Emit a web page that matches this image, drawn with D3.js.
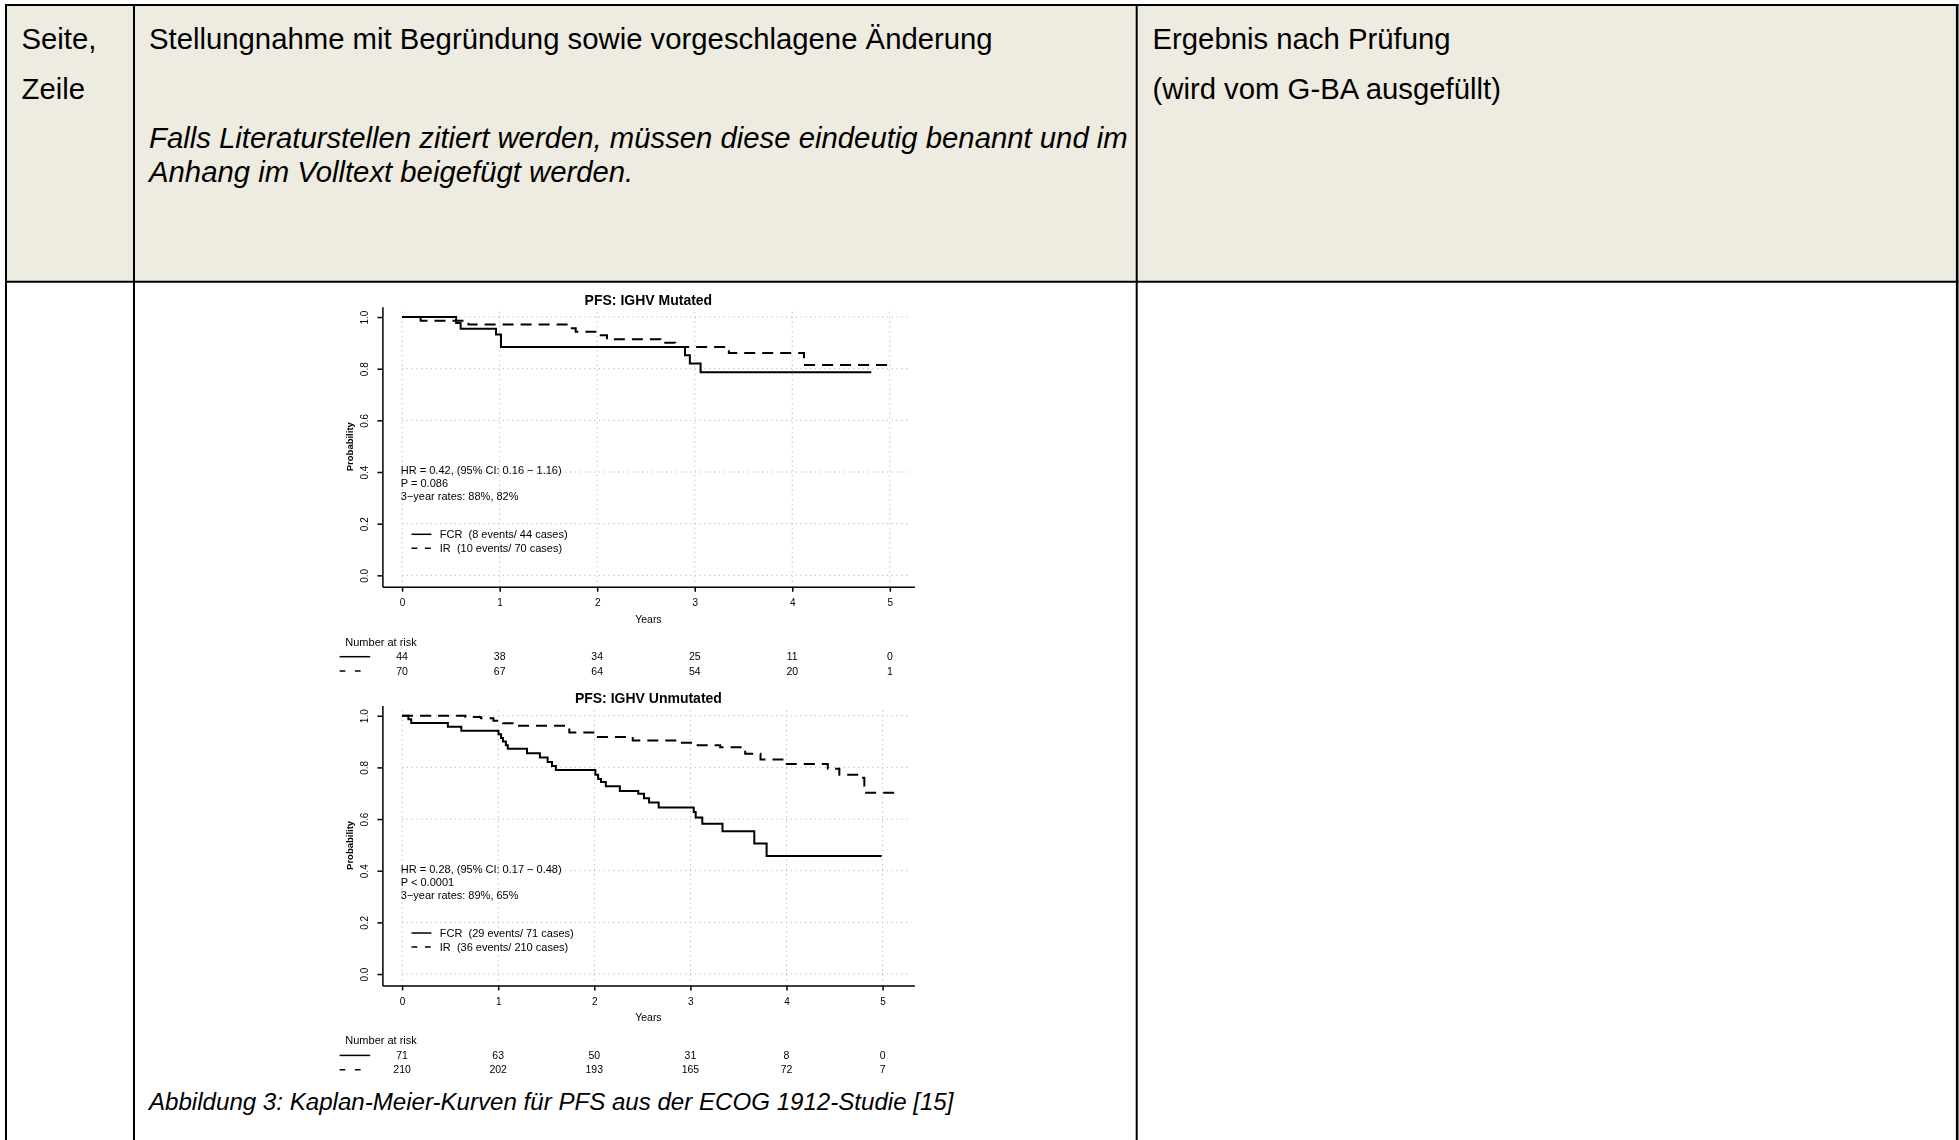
<!DOCTYPE html>
<html>
<head>
<meta charset="utf-8">
<script src="https://cdn.jsdelivr.net/npm/d3@7"></script>
<style>
  html, body { margin: 0; padding: 0; background: #fff; }
  svg { display: block; }
  text { white-space: pre; }
</style>
</head>
<body>
<svg id="page" width="1959" height="1140"></svg>
<script>
// ---- Table text -------------------------------------------------------
const headCol1 = ["Seite,", "Zeile"];
const headCol2 = "Stellungnahme mit Begründung sowie vorgeschlagene Änderung";
const headCol2Note = ["Falls Literaturstellen zitiert werden, müssen diese eindeutig benannt und im",
                      "Anhang im Volltext beigefügt werden."];
const headCol3 = ["Ergebnis nach Prüfung", "(wird vom G-BA ausgefüllt)"];
const caption = "Abbildung 3: Kaplan-Meier-Kurven für PFS aus der ECOG 1912-Studie [15]";

// ---- Axis ticks -------------------------------------------------------
const yearTicks = [0, 1, 2, 3, 4, 5];
const probTicks = [0, 0.2, 0.4, 0.6, 0.8, 1.0];

// ---- Kaplan-Meier steps: [years, survival after the step]; last row = last follow-up
const mutatedFCR = [[0, 1], [0.554, 0.977], [0.60, 0.955], [0.963, 0.932], [1.014, 0.884],
                    [2.90, 0.852], [2.95, 0.820], [3.06, 0.786], [4.81, 0.786]];
const mutatedIR  = [[0, 1], [0.19, 0.986], [0.68, 0.971], [1.74, 0.957], [1.78, 0.943],
                    [2.02, 0.929], [2.10, 0.914], [2.65, 0.900], [2.80, 0.884],
                    [3.35, 0.861], [4.12, 0.814], [5.04, 0.814]];
const unmutFCR   = [[0, 1], [0.065, 0.986], [0.095, 0.972], [0.476, 0.957], [0.616, 0.942],
                    [1.003, 0.928], [1.03, 0.914], [1.05, 0.900], [1.08, 0.886], [1.10, 0.872],
                    [1.30, 0.855], [1.434, 0.838], [1.514, 0.821], [1.56, 0.805], [1.60, 0.790],
                    [2.011, 0.772], [2.04, 0.755], [2.07, 0.743], [2.12, 0.727], [2.266, 0.709],
                    [2.457, 0.698], [2.517, 0.681], [2.57, 0.664], [2.67, 0.645],
                    [3.035, 0.627], [3.055, 0.606], [3.124, 0.582], [3.334, 0.553],
                    [3.665, 0.505], [3.793, 0.457], [4.99, 0.457]];
const unmutIR    = [[0, 1], [0.66, 0.995], [0.82, 0.990], [0.95, 0.981], [1.05, 0.971],
                    [1.15, 0.961], [1.74, 0.935], [2.02, 0.918], [2.40, 0.904], [2.86, 0.895],
                    [3.02, 0.886], [3.31, 0.878], [3.57, 0.853], [3.73, 0.831], [3.99, 0.813],
                    [4.43, 0.795], [4.55, 0.772], [4.75, 0.760], [4.81, 0.702], [5.13, 0.702]];

// ---- Number at risk ---------------------------------------------------
const mutatedRiskFCR = [44, 38, 34, 25, 11, 0];
const mutatedRiskIR  = [70, 67, 64, 54, 20, 1];
const unmutRiskFCR   = [71, 63, 50, 31, 8, 0];
const unmutRiskIR    = [210, 202, 193, 165, 72, 7];

// ---- Panel labels -----------------------------------------------------
const panelTitles = ["PFS: IGHV Mutated", "PFS: IGHV Unmutated"];
const mutatedStats = ["HR = 0.42, (95% CI: 0.16 \u2212 1.16)", "P = 0.086", "3\u2212year rates: 88%, 82%"];
const unmutStats   = ["HR = 0.28, (95% CI: 0.17 \u2212 0.48)", "P < 0.0001", "3\u2212year rates: 89%, 65%"];
const mutatedLegend = ["FCR  (8 events/ 44 cases)", "IR  (10 events/ 70 cases)"];
const unmutLegend   = ["FCR  (29 events/ 71 cases)", "IR  (36 events/ 210 cases)"];

const svg = d3.select("#page");
const SANS = "'Liberation Sans', Arial, Helvetica, sans-serif";

// ---- Table frame ------------------------------------------------------
const colX = [6, 134, 1136.7, 1957.2];
const headTop = 5, headBottom = 281.8;

svg.append("rect")
  .attr("x", colX[0]).attr("y", headTop)
  .attr("width", colX[3] - colX[0]).attr("height", headBottom - headTop)
  .attr("fill", "#eeece1");

const frame = svg.append("g").attr("stroke", "#000");
frame.selectAll("line.v").data(colX).join("line")
  .attr("x1", d => d).attr("x2", d => d)
  .attr("y1", headTop - 1).attr("y2", 1140)
  .attr("stroke-width", (d, i) => i === 3 ? 2.6 : 2);
frame.selectAll("line.h").data([headTop, headBottom]).join("line")
  .attr("x1", colX[0] - 1).attr("x2", colX[3] + 1.3)
  .attr("y1", d => d).attr("y2", d => d)
  .attr("stroke-width", 2);

const head = svg.append("g").attr("font-family", SANS).attr("font-size", 29.3).attr("fill", "#000");
head.selectAll("text.c1").data(headCol1).join("text")
  .attr("x", 21.5).attr("y", (d, i) => 49 + i * 50).text(d => d);
head.append("text").attr("x", 149).attr("y", 49).text(headCol2);
head.selectAll("text.c2").data(headCol2Note).join("text")
  .attr("x", 149).attr("y", (d, i) => 147.5 + i * 34)
  .attr("font-style", "italic").text(d => d);
head.selectAll("text.c3").data(headCol3).join("text")
  .attr("x", 1152.5).attr("y", (d, i) => 49 + i * 49.5).text(d => d);

svg.append("text")
  .attr("x", 149).attr("y", 1109.5)
  .attr("font-family", SANS).attr("font-size", 24.1).attr("font-style", "italic")
  .text(caption);

// ---- Slight softening for the embedded figure -------------------------
svg.append("defs").append("filter").attr("id", "soft")
  .attr("x", "-5%").attr("y", "-5%").attr("width", "110%").attr("height", "110%")
  .append("feGaussianBlur").attr("stdDeviation", 0.45);

// ---- One Kaplan-Meier panel ------------------------------------------
function drawPanel(cfg) {
  const top = cfg.top;
  const g = svg.append("g").attr("filter", "url(#soft)")
    .attr("font-family", SANS).attr("fill", "#000");

  const x = d3.scaleLinear().domain([-0.04 * cfg.xMax, 1.04 * cfg.xMax]).range([382.4, 914.4]);
  const y = d3.scaleLinear().domain([-0.044, 1.04]).range([top + 280, top]);
  const x0 = x(0);
  const midX = (x.range()[0] + x.range()[1]) / 2;

  // dotted reference grid
  const grid = g.append("g").attr("stroke", "#b8b8b8").attr("stroke-width", 1)
    .attr("stroke-dasharray", "1.2,3.6");
  grid.selectAll("line.gv").data(yearTicks).join("line")
    .attr("x1", d => x(d)).attr("x2", d => x(d))
    .attr("y1", y(-0.025)).attr("y2", y(1.028));
  grid.selectAll("line.gh").data(probTicks).join("line")
    .attr("x1", x0).attr("x2", x(1.03 * cfg.xMax))
    .attr("y1", d => y(d)).attr("y2", d => y(d));

  // axes
  const xAxis = g.append("g").attr("transform", `translate(0,${y.range()[0]})`)
    .call(d3.axisBottom(x).tickValues(yearTicks).tickSize(5).tickSizeOuter(0).tickFormat(d3.format("d")));
  const yAxis = g.append("g").attr("transform", `translate(${x.range()[0]},0)`)
    .call(d3.axisLeft(y).tickValues(probTicks).tickSize(5).tickSizeOuter(0).tickFormat(d3.format(".1f")));
  [xAxis, yAxis].forEach(a => {
    a.attr("font-family", SANS).attr("font-size", 10);
    a.selectAll("path, line").attr("stroke", "#000").attr("stroke-width", 1.5);
    a.selectAll("text").attr("fill", "#000");
  });
  xAxis.selectAll("text").attr("y", 19.8).attr("dy", 0);
  yAxis.selectAll("text")
    .attr("transform", "rotate(-90)")
    .attr("x", 0).attr("y", -14.8).attr("dy", 0)
    .attr("text-anchor", "middle");

  // titles and axis labels
  g.append("text").attr("x", midX).attr("y", top - 2)
    .attr("text-anchor", "middle").attr("font-size", 14).attr("font-weight", "bold")
    .text(cfg.title);
  g.append("text").attr("x", midX).attr("y", top + 316)
    .attr("text-anchor", "middle").attr("font-size", 10.5).text("Years");
  g.append("text")
    .attr("transform", `translate(352.8,${(y.range()[0] + y.range()[1]) / 2}) rotate(-90)`)
    .attr("text-anchor", "middle").attr("font-size", 9.5).attr("font-weight", "bold")
    .text("Probability");

  // survival curves
  const line = d3.line().x(d => x(d[0])).y(d => y(d[1])).curve(d3.curveStepAfter);
  g.append("path").datum(cfg.fcr).attr("d", line)
    .attr("fill", "none").attr("stroke", "#000").attr("stroke-width", 2);
  g.append("path").datum(cfg.ir).attr("d", line)
    .attr("fill", "none").attr("stroke", "#000").attr("stroke-width", 2)
    .attr("stroke-dasharray", "11,7");

  // statistics text
  g.selectAll("text.stat").data(cfg.stats).join("text")
    .attr("x", x0 - 1.3).attr("y", (d, i) => top + 167.6 + i * 13)
    .attr("font-size", 11).text(d => d);

  // legend
  const leg = g.append("g");
  [0, 1].forEach(i => {
    const ly = top + 227.6 + i * 14;
    leg.append("line").attr("x1", x0 + 9.4).attr("x2", x0 + 29.3).attr("y1", ly).attr("y2", ly)
      .attr("stroke", "#000").attr("stroke-width", 1.5)
      .attr("stroke-dasharray", i === 1 ? "5.8,7.6" : null);
    leg.append("text").attr("x", x0 + 37.7).attr("y", ly + 3.8)
      .attr("font-size", 11).text(cfg.legend[i]);
  });

  // number at risk table
  g.append("text").attr("x", 345.3).attr("y", top + 339)
    .attr("font-size", 11).text("Number at risk");
  [cfg.riskFcr, cfg.riskIr].forEach((row, i) => {
    const ry = top + 350 + i * 14.3;
    g.append("line").attr("x1", 339.6).attr("x2", 370.2).attr("y1", ry).attr("y2", ry)
      .attr("stroke", "#000").attr("stroke-width", 1.5)
      .attr("stroke-dasharray", i === 1 ? "5.7,9.6" : null);
    g.selectAll(null).data(row).join("text")
      .attr("x", (d, k) => x(yearTicks[k])).attr("y", ry + 3.6)
      .attr("text-anchor", "middle").attr("font-size", 10.5).text(d => d);
  });
}

drawPanel({ top: 306.7, xMax: 5.05, title: panelTitles[0], fcr: mutatedFCR, ir: mutatedIR,
            stats: mutatedStats, legend: mutatedLegend, riskFcr: mutatedRiskFCR, riskIr: mutatedRiskIR });
drawPanel({ top: 705.4, xMax: 5.126, title: panelTitles[1], fcr: unmutFCR, ir: unmutIR,
            stats: unmutStats, legend: unmutLegend, riskFcr: unmutRiskFCR, riskIr: unmutRiskIR });
</script>
</body>
</html>
